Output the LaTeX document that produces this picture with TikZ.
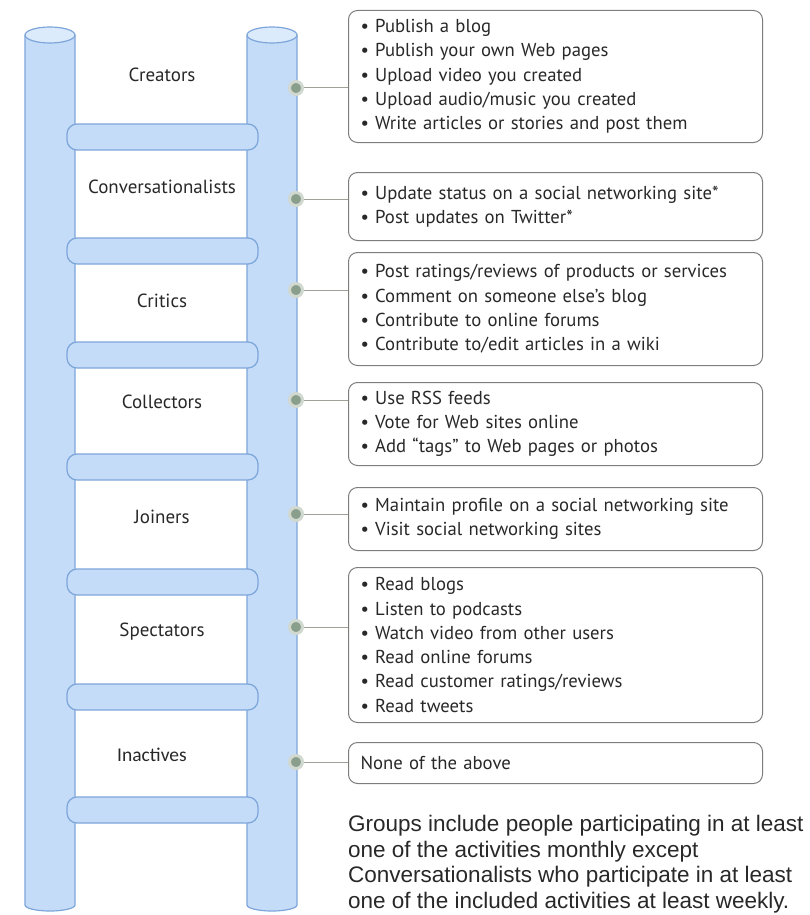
\documentclass[tikz,border=0pt]{standalone}
\usepackage{fontspec}
\setmainfont{PT Sans}
\newfontfamily\notefont{Liberation Sans}
\newfontfamily\calfont{Carlito}
\usepackage{xcolor}
\usetikzlibrary{positioning,calc}

\definecolor{poleblue}{RGB}{196,220,247}
\definecolor{poleedge}{RGB}{125,165,218}
\definecolor{capblue}{RGB}{220,235,251}
\definecolor{dotgreen}{RGB}{138,158,140}
\definecolor{dotring}{RGB}{208,216,208}
\definecolor{wiregray}{RGB}{160,160,150}
\definecolor{boxgray}{RGB}{125,125,125}
\definecolor{inkgray}{RGB}{40,40,40}

\begin{document}
\begin{tikzpicture}[x=1pt, y=-1pt,
    pole/.style={draw=poleedge, fill=poleblue, line width=1.2pt},
    rung/.style={draw=poleedge, fill=poleblue, line width=1.2pt, rounded corners=10pt},
    level/.style={font=\fontsize{19}{22}\selectfont, text=inkgray},
    knob/.style={circle, draw=dotring, line width=3pt, fill=dotgreen, minimum size=13pt, inner sep=0pt},
    box/.style={draw=boxgray, line width=1pt, rounded corners=9pt, text width=390pt, inner xsep=12pt, align=left, anchor=north west, font=\fontsize{18.7}{24.3}\selectfont, text=inkgray},
    wire/.style={draw=wiregray, line width=1pt}]
    \useasboundingbox (0,0) rectangle (810,915);
    % Holme
    \draw[pole] (25,35) -- (25,905) arc[start angle=180, end angle=360, x radius=25pt, y radius=6pt] -- (75,35);
    \draw[pole, fill=capblue] (50,35) ellipse[x radius=25pt, y radius=8pt];
    \draw[pole] (247,35) -- (247,905) arc[start angle=180, end angle=360, x radius=25pt, y radius=6pt] -- (297,35);
    \draw[pole, fill=capblue] (272,35) ellipse[x radius=25pt, y radius=8pt];
    % Sprossen
    \draw[rung] (67,124) rectangle (258,150);
    \draw[rung] (67,238) rectangle (258,264);
    \draw[rung] (67,342) rectangle (258,368);
    \draw[rung] (67,454) rectangle (258,480);
    \draw[rung] (67,569) rectangle (258,595);
    \draw[rung] (67,684) rectangle (258,710);
    \draw[rung] (67,797) rectangle (258,823);
    % Stufen
    \node[level] (lCreators) at (162,75) {Creators};
    \node[level] (lConv) at (162,187) {Conversationalists};
    \node[level] (lCritics) at (162,301) {Critics};
    \node[level] (lCollectors) at (162,402) {Collectors};
    \node[level] (lJoiners) at (162,517) {Joiners};
    \node[level] (lSpectators) at (162,632) {Spectators};
    \node[level, font=\calfont\fontsize{19.5}{22}\selectfont] (lInactives) at (152,755) {Inactives};
    % Knoepfe
    \node[knob] (kCreators) at (296,88) {};
    \node[knob] (kConv) at (296,199) {};
    \node[knob] (kCritics) at (296,290) {};
    \node[knob] (kCollectors) at (296,400) {};
    \node[knob] (kJoiners) at (296,514) {};
    \node[knob] (kSpectators) at (296,627) {};
    \node[knob] (kInactives) at (296,762) {};
    % Aktivitaeten
    \node[box, minimum height=132pt] (bCreators) at (348,10) {• Publish a blog\\• Publish your own Web pages\\• Upload video you created\\• Upload audio/music you created\\• Write articles or stories and post them};
    \node[box, minimum height=68pt] (bConv) at (348,172) {• Update status on a social networking site*\\• Post updates on Twitter*};
    \node[box, minimum height=113pt] (bCritics) at (348,252) {• Post ratings/reviews of products or services\\• Comment on someone else’s blog\\• Contribute to online forums\\• Contribute to/edit articles in a wiki};
    \node[box, minimum height=83pt] (bCollectors) at (348,382) {• Use RSS feeds\\• Vote for Web sites online\\• Add “tags” to Web pages or photos};
    \node[box, minimum height=63pt] (bJoiners) at (348,487) {• Maintain profile on a social networking site\\• Visit social networking sites};
    \node[box, minimum height=155pt] (bSpectators) at (348,567) {• Read blogs\\• Listen to podcasts\\• Watch video from other users\\• Read online forums\\• Read customer ratings/reviews\\• Read tweets};
    \node[box, minimum height=41pt] (bInactives) at (348,742) {None of the above};
    % Verbindungen
    \draw[wire] (kCreators) -- (kCreators -| bCreators.west);
    \draw[wire] (kConv) -- (kConv -| bConv.west);
    \draw[wire] (kCritics) -- (kCritics -| bCritics.west);
    \draw[wire] (kCollectors) -- (kCollectors -| bCollectors.west);
    \draw[wire] (kJoiners) -- (kJoiners -| bJoiners.west);
    \draw[wire] (kSpectators) -- (kSpectators -| bSpectators.west);
    \draw[wire] (kInactives) -- (kInactives -| bInactives.west);
    % Anmerkung
    \node[below=31pt of bInactives.south west, anchor=north west, inner sep=0pt, align=left, text=inkgray, font=\notefont\fontsize{22.5}{25.5}\selectfont] (note) {Groups include people participating in at least\\one of the activities monthly except\\Conversationalists who participate in at least\\one of the included activities at least weekly.};
\end{tikzpicture}
\end{document}
